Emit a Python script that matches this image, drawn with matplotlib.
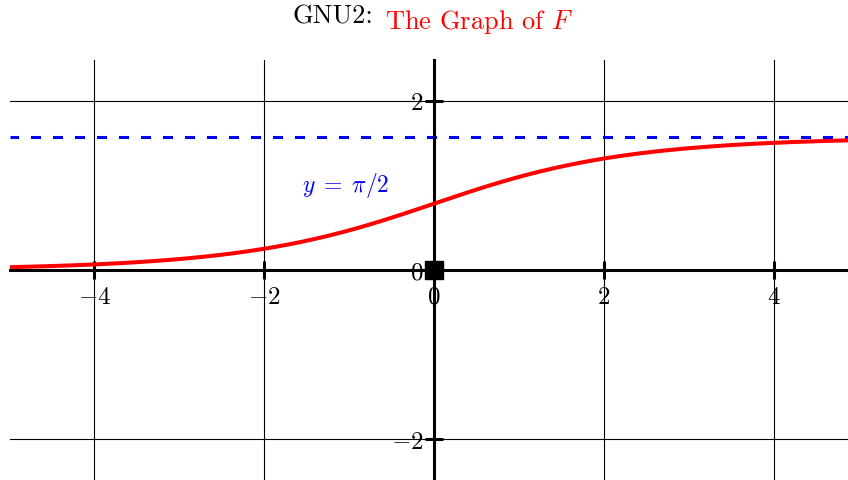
import numpy as np
import matplotlib.pyplot as plt

plt.rcParams['mathtext.fontset'] = 'cm'

# axis ticks and labels
x_ticks = [-4, -2, 0, 2, 4]
y_ticks = [-2, 0, 2]
x_labels = [r'$-4$', r'$-2$', r'$0$', r'$2$', r'$4$']
y_labels = [r'$-2$', r'$0$', r'$2$']

# F(x) = arctan(exp(k x)), horizontal asymptote y = pi/2
k = 0.68
asymptote = np.pi / 2
xmin, xmax = -4.99, 4.87
xs = np.linspace(xmin, xmax, 500)
F = np.arctan(np.exp(k * xs))

fig = plt.figure(figsize=(8.48, 4.8), dpi=100)
ax = fig.add_axes([10 / 848, 0, 838 / 848, 420 / 480])
ax.set_xlim(xmin, xmax)
ax.set_ylim(-2.485, 2.485)

# grid
for v in x_ticks:
    ax.axvline(v, color='black', lw=0.8, zorder=1)
for v in y_ticks:
    ax.axhline(v, color='black', lw=0.8, zorder=1)

# axes through the origin
for s in ['top', 'right']:
    ax.spines[s].set_visible(False)
for s in ['left', 'bottom']:
    ax.spines[s].set_position(('data', 0))
    ax.spines[s].set_linewidth(2.2)
    ax.spines[s].set_zorder(3)

ax.set_xticks(x_ticks)
ax.set_xticklabels(x_labels)
ax.set_yticks(y_ticks)
ax.set_yticklabels(y_labels)
ax.tick_params(direction='inout', length=13, width=2.2, labelsize=18)
ax.tick_params(axis='x', pad=4)
ax.tick_params(axis='y', pad=1)

ax.plot(xs, np.full_like(xs, asymptote), color='blue', lw=2.2,
        linestyle=(0.5, (3.3, 3.9)), zorder=2)
ax.plot(xs, F, color='red', lw=2.9, zorder=4)
ax.plot([0], [0], marker='s', markersize=13.5, color='black', zorder=5,
        clip_on=False)

ax.text(-1.04, 1.0, r'$y\;=\;\pi/2$', color='blue', fontsize=17,
        ha='center', va='center')

t1 = fig.text(293 / 848, 1 - 24 / 480, 'GNU2:', fontfamily='cmr10',
              fontsize=19, ha='left', va='baseline')
ax.annotate(r'The Graph of $F$', xy=(1, 0), xycoords=t1,
            xytext=(8, 0), textcoords='offset points', fontfamily='cmr10',
            fontsize=19, color='red', ha='left', va='baseline')

fig.savefig('out.png', dpi=100)
